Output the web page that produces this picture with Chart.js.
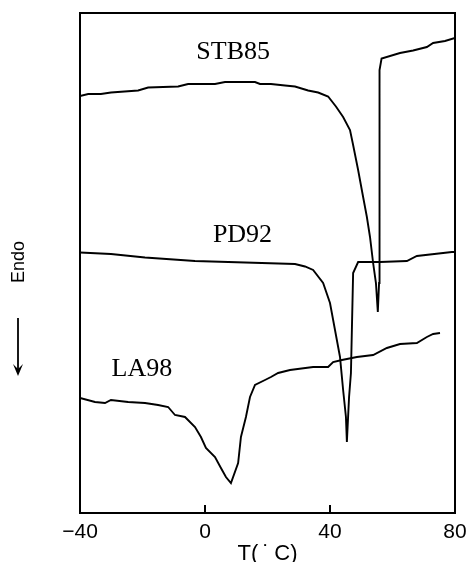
<!DOCTYPE html>
<html><head><meta charset="utf-8">
<script src="https://cdn.jsdelivr.net/npm/chart.js@4"></script>
<style>html,body{margin:0;padding:0;background:#fff}canvas{display:block}</style>
</head><body>
<canvas id="c" width="467" height="562"></canvas>
<script>
// ---- data ----
const stb85T = [-40,-37.4,-33.3,-30.1,-21.4,-18.2,-8.6,-5.4,3.2,6.4,16,17.6,21.1,25.6,28.8,33,36.2,39.4,41.9,44.2,46.4,47.3,49,50.6,51.8,52.8,53.8,54.7,55.3,55.7,55.8,55.9,56.5,62.4,66.6,71,73,76.8,80];
const stb85V = [83.4,83.8,83.8,84.1,84.5,85.1,85.3,85.8,85.8,86.2,86.2,85.8,85.8,85.5,85.3,84.5,84.1,83.3,81.3,79.2,76.6,73.9,68.6,63.2,59.2,55.2,50,46,40.2,46,72.6,88.6,90.9,92,92.5,93.2,94,94.4,95];

const pd92T = [-40,-30.1,-19.2,-3.2,12.8,28.8,32,34.6,37.8,40,41.6,43.2,44.2,45.1,45.4,46.1,46.7,47,47.4,49,56,64.6,67.8,79,80];
const pd92V = [52.1,51.8,51.1,50.4,50.1,49.8,49.3,48.6,46,42,36.6,31.2,24.6,19.2,14.2,23.2,28,36.6,48,50.2,50.2,50.4,51.4,52.2,52.2];

const la98T = [-40,-35.2,-32,-30.1,-24.6,-19.2,-15,-11.8,-9.6,-6.4,-3.2,-1.3,0.3,3.2,5.1,6.7,8.3,10.6,11.5,13.1,14.4,16,19.2,21.1,23.4,27.2,34.6,39.4,41,43.8,48.6,53.8,58.2,62.4,67.8,71,73,75.2];
const la98V = [23,22.2,22,22.6,22.2,22,21.6,21.2,19.6,19.2,17.2,15.2,13,11.2,9,7.2,6,10,15.2,19.2,23.2,25.6,26.6,27.2,28,28.6,29.2,29.2,30.2,30.6,31.2,31.6,33,33.8,34,35.2,35.8,36];

const seriesNames = ['STB85','PD92','LA98'];
const xTickValues = [-40, 0, 40, 80];
const xTickLabels = ['\u221240', '0', '40', '80'];
const xTitle = 'T(\u2009\u02D9\u2009C)';
const yLabel = 'Endo';

// label anchor points in data units
const labelAnchors = [{x:9, y:92.2}, {x:12, y:55.6}, {x:-20.2, y:28.8}];

const toPts = (T, V) => T.map((t, i) => ({x: t, y: V[i]}));
const mk = (T, V, name) => ({label: name, data: toPts(T, V), showLine: true, borderColor: '#000',
  borderWidth: 1.9, pointRadius: 0, tension: 0, fill: false});

const decor = {
  id: 'decor',
  afterDraw(chart) {
    const {ctx, chartArea: a, scales: {x, y}} = chart;
    ctx.save();
    ctx.strokeStyle = '#000';
    ctx.fillStyle = '#000';
    ctx.lineWidth = 2;
    ctx.strokeRect(a.left, a.top, a.right - a.left, a.bottom - a.top);
    // inward tick marks
    xTickValues.forEach(v => {
      const px = x.getPixelForValue(v);
      ctx.beginPath(); ctx.moveTo(px, a.bottom); ctx.lineTo(px, a.bottom - 8); ctx.stroke();
    });
    // curve labels
    ctx.font = '26px "Liberation Serif"';
    ctx.textAlign = 'center';
    ctx.textBaseline = 'middle';
    seriesNames.forEach((n, i) => {
      ctx.fillText(n, x.getPixelForValue(labelAnchors[i].x), y.getPixelForValue(labelAnchors[i].y));
    });
    // Endo + arrow
    const ex = a.left - 61;
    ctx.save();
    ctx.translate(ex, 262);
    ctx.rotate(-Math.PI / 2);
    ctx.font = '18px "Liberation Sans"';
    ctx.fillText(yLabel, 0, 0);
    ctx.restore();
    ctx.lineWidth = 1.8;
    ctx.beginPath(); ctx.moveTo(ex - 1, 318); ctx.lineTo(ex - 1, 372); ctx.stroke();
    ctx.beginPath(); ctx.moveTo(ex - 1, 376); ctx.lineTo(ex - 6, 364); ctx.lineTo(ex - 1, 369); ctx.lineTo(ex + 4, 364); ctx.closePath(); ctx.fill();
    ctx.restore();
  }
};

new Chart(document.getElementById('c'), {
  type: 'scatter',
  data: {datasets: [mk(stb85T, stb85V, seriesNames[0]), mk(pd92T, pd92V, seriesNames[1]), mk(la98T, la98V, seriesNames[2])]},
  options: {
    responsive: false, animation: false,
    layout: {padding: {left: 80, right: 12, top: 13, bottom: 0}},
    plugins: {legend: {display: false}, tooltip: {enabled: false}},
    scales: {
      x: {
        type: 'linear', min: -40, max: 80,
        afterBuildTicks: s => { s.ticks = xTickValues.map(v => ({value: v})); },
        ticks: {callback: v => xTickLabels[xTickValues.indexOf(v)], font: {family: 'Liberation Sans', size: 21},
          color: '#000', padding: 7, maxRotation: 0, autoSkip: false},
        grid: {display: false, drawTicks: false},
        border: {display: false},
        title: {display: true, text: xTitle, font: {family: 'Liberation Sans', size: 22, lineHeight: 1},
          color: '#000', padding: {top: 0, bottom: -3}},
        afterFit: s => { s.height = 49; s.paddingLeft = 0; s.paddingRight = 0; }
      },
      y: {display: false, min: 0, max: 100}
    }
  },
  plugins: [decor]
});
</script>
</body></html>
